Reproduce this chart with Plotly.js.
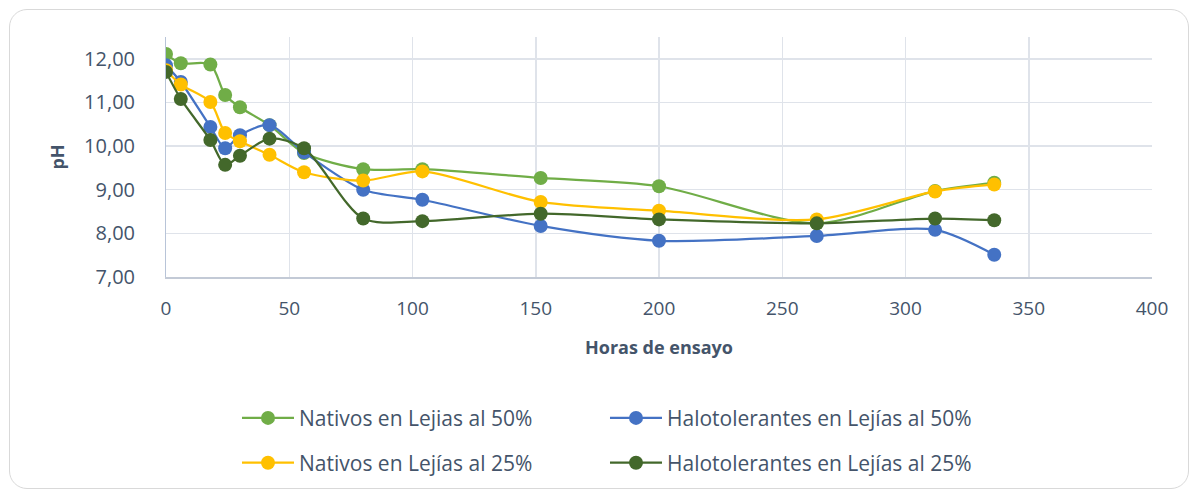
<!DOCTYPE html>
<html><head><meta charset="utf-8">
<script src="https://cdn.plot.ly/plotly-3.0.1.min.js"></script>
<style>
html,body{margin:0;padding:0;background:#fff;}
#frame{position:absolute;left:9px;top:9px;width:1180px;height:480px;border:1.5px solid #d9d9d9;border-radius:18px;box-sizing:border-box;}
#chart{position:absolute;left:0;top:0;width:1200px;height:494px;}
</style></head>
<body>
<div id="frame"></div>
<div id="chart"></div>
<script>
const hours = [0, 6, 18, 24, 30, 42, 56, 80, 104, 152, 200, 264, 312, 336];
const nativos50 = [12.11, 11.90, 11.87, 11.17, 10.89, 10.48, 9.84, 9.47, 9.47, 9.27, 9.08, 8.23, 8.97, 9.16];
const halo50 = [11.85, 11.47, 10.44, 9.95, 10.25, 10.48, 9.86, 9.00, 8.77, 8.17, 7.83, 7.94, 8.08, 7.51];
const nativos25 = [11.74, 11.41, 11.01, 10.30, 10.11, 9.80, 9.40, 9.21, 9.42, 8.72, 8.52, 8.32, 8.96, 9.12];
const halo25 = [11.70, 11.08, 10.14, 9.57, 9.78, 10.17, 9.95, 8.34, 8.28, 8.45, 8.32, 8.23, 8.34, 8.30];
const seriesNames = ["Nativos en Lejias al 50%", "Halotolerantes en Lejías al 50%", "Nativos en Lejías al 25%", "Halotolerantes en Lejías al 25%"];
const colors = ["#70AD47", "#4472C4", "#FFC000", "#43682B"];
const values = [nativos50, halo50, nativos25, halo25];
const legends = ["legend", "legend", "legend2", "legend2"];

const traces = values.map((v, i) => ({
  x: hours, y: v, name: seriesNames[i], type: "scatter", mode: "lines+markers",
  line: {color: colors[i], width: 2.25, shape: "spline", smoothing: 0.8},
  marker: {color: colors[i], size: 14},
  legend: legends[i]
}));

const fontFam = "'Open Sans', sans-serif";
const txt = "#44546A";
const legendCommon = {
  orientation: "h", xanchor: "left", yanchor: "middle", x: 0.072,
  entrywidth: 301, entrywidthmode: "pixels", itemwidth: 52,
  font: {family: fontFam, size: 21, color: txt}, bgcolor: "rgba(0,0,0,0)"
};

const layout = {
  width: 1200, height: 494,
  margin: {l: 166, r: 48, t: 37, b: 216},
  paper_bgcolor: "rgba(0,0,0,0)", plot_bgcolor: "rgba(0,0,0,0)",
  separators: ",.",
  font: {family: fontFam, size: 19, color: txt},
  showlegend: true,
  xaxis: {
    range: [0, 400], dtick: 50, tick0: 0, showgrid: true, gridcolor: "#dfe3ea", gridwidth: 1.5,
    zeroline: false, showline: true, linecolor: "#c3cad6", linewidth: 1.5, ticks: "",
    ticklabelstandoff: 14,
    tickfont: {family: fontFam, size: 19, color: txt},
    title: {text: "<b>Horas de ensayo</b>", font: {family: fontFam, size: 18, color: txt}, standoff: 21}
  },
  yaxis: {
    range: [7, 12.5], dtick: 1, tick0: 7, tickformat: ".2f", showgrid: true, gridcolor: "#dfe3ea", gridwidth: 1.5,
    zeroline: false, showline: true, linecolor: "#b8c4d8", linewidth: 1, ticks: "",
    ticklabelstandoff: 26,
    tickfont: {family: fontFam, size: 20, color: txt},
    title: {text: "<b>pH</b>", font: {family: fontFam, size: 18, color: txt}, standoff: 14}
  },
  legend: Object.assign({}, legendCommon, {y: -0.582}),
  legend2: Object.assign({}, legendCommon, {y: -0.768})
};

Plotly.newPlot("chart", traces, layout, {displayModeBar: false, staticPlot: true});
</script>
</body></html>
